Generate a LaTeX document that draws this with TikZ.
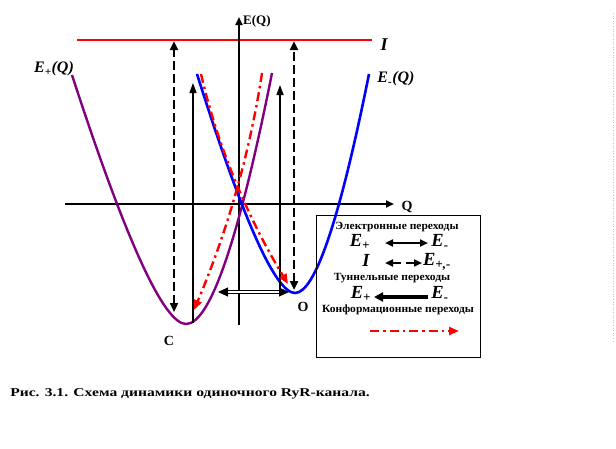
\documentclass[tikz,border=0pt]{standalone}
\usepackage{fontspec}
\setmainfont{Liberation Serif}
\usetikzlibrary{arrows.meta}
\definecolor{eplus}{RGB}{128,0,128}
\definecolor{eminus}{RGB}{0,0,255}
\definecolor{ired}{RGB}{255,0,0}
\begin{document}
\begin{tikzpicture}[x=1pt,y=-1pt,
  axis/.style={line width=2.6pt, -{Triangle[length=8pt,width=7pt]}},
  jump/.style={line width=2.4pt, dash pattern=on 9pt off 4pt, {Triangle[length=9pt,width=8pt]}-{Triangle[length=9pt,width=8pt]}},
  rise/.style={line width=1.3pt, -{Triangle[length=10pt,width=7pt]}},
  conf/.style={ired, line width=2.4pt, dash pattern=on 9pt off 4pt on 2.5pt off 4pt, -{Triangle[length=10pt,width=8pt]}},
  curveplus/.style={eplus, line width=2.4pt},
  curveminus/.style={eminus, line width=2.6pt},
  lbl/.style={font=\bfseries, inner sep=0pt},
  ilbl/.style={font=\bfseries\itshape, inner sep=0pt},
  legtxt/.style={font=\bfseries\fontsize{11}{12}\selectfont, inner sep=0pt, xscale=1.05, text height=7.5pt, text depth=2pt},
  legE/.style={font=\bfseries\itshape\fontsize{18.5}{20}\selectfont, inner sep=0pt, text height=12.5pt, text depth=1pt},
  legarrow/.style={line width=2.2pt, -{Triangle[length=8pt,width=7pt]}},
  ]
\useasboundingbox (0,0) rectangle (616,448);

% faint page border
\draw[gray!45, line width=0.6pt, dotted] (613,13) -- (613,342);

% ionised level I
\coordinate (il) at (77,40);
\coordinate (ir) at (372,40);
\draw[ired, line width=2pt] (il) -- (ir);
\node[ilbl, font=\bfseries\itshape\fontsize{18}{18}\selectfont] (Ilab) at (384,45) {I};

% axes
\coordinate (xl) at (65,204);
\coordinate (xr) at (394,204);
\coordinate (yb) at (239,325);
\coordinate (yt) at (239,17);
\draw[axis] (xl) -- (xr);
\draw[axis] (yb) -- (yt);
\node[lbl, font=\bfseries\fontsize{13}{13}\selectfont, anchor=west] (EQ) at (243,21) {E(Q)};
\node[lbl, font=\bfseries\fontsize{14}{14}\selectfont] (Qlab) at (407,207) {Q};

% E+ curve (purple)
\draw[curveplus] (72,75) .. controls (126,241) and (164,324) .. (186,324)
                 .. controls (210,324) and (238.7,240.3) .. (272,73);
% E- curve (blue)
\draw[curveminus] (197,74) .. controls (243,220) and (275.7,293) .. (295,293)
                  .. controls (315,293) and (339.7,220) .. (369,74);

\node[ilbl, font=\bfseries\itshape\fontsize{16}{16}\selectfont] (Eplab) at (54,69) {E\textsubscript{+}(Q)};
\node[ilbl, font=\bfseries\itshape\fontsize{16}{16}\selectfont] (Emlab) at (396,79) {E\textsubscript{-}(Q)};

% dashed transitions to I
\coordinate (dlb) at (174,312);
\coordinate (dlt) at (174,41);
\coordinate (drb) at (294,290);
\coordinate (drt) at (294,41);
\draw[jump] (dlb) -- (dlt);
\draw[jump] (drb) -- (drt);

% solid upward transitions
\coordinate (slb) at (193,323);
\coordinate (slt) at (193,83);
\coordinate (srb) at (280,289);
\coordinate (srt) at (280,85);
\draw[rise] (slb) -- (slt);
\draw[rise] (srb) -- (srt);

% tunnelling double arrow
\coordinate (tl) at (218,292);
\coordinate (tr) at (289,292);
\draw[double, double distance=2pt, line width=0.9pt,
      {Triangle[length=10pt,width=9pt]}-{Triangle[length=10pt,width=9pt]}] (tl) -- (tr);

% conformational transitions (red dash-dot)
\coordinate (c1s) at (201,74);
\coordinate (c1e) at (288,284);
\coordinate (c2s) at (262,73);
\coordinate (c2e) at (194,310);
\draw[conf] (c1s) .. controls (217.7,146) and (246.7,216) .. (c1e);
\draw[conf] (c2s) .. controls (250,152.3) and (227.3,231.3) .. (c2e);

% state labels
\node[lbl, font=\bfseries\fontsize{14}{14}\selectfont] (Olab) at (303,307) {O};
\node[lbl, font=\bfseries\fontsize{14}{14}\selectfont] (Clab) at (169,341) {C};

% legend
\node[draw, line width=1.2pt, minimum width=164pt, minimum height=142pt, inner sep=0pt, anchor=north west] (legend) at (316,215) {};
\node[legtxt] (t1) at (397,227) {Электронные переходы};
\node[legE] (r1a) at (360,241) {E\textsubscript{+}};
\node[legE] (r1b) at (440,241) {E\textsubscript{-}};
\coordinate (a1l) at (385,243);
\coordinate (a1r) at (428,243);
\draw[line width=2.2pt, {Triangle[length=8pt,width=7pt]}-{Triangle[length=8pt,width=7pt]}] (a1l) -- (a1r);
\node[legE] (r2a) at (366,261) {I};
\node[legE] (r2b) at (437,260) {E\textsubscript{+,-}};
\coordinate (a2a) at (401,263);
\coordinate (a2b) at (385,263);
\coordinate (a2c) at (406,263);
\coordinate (a2d) at (422,263);
\draw[legarrow] (a2a) -- (a2b);
\draw[legarrow] (a2c) -- (a2d);
\node[legtxt] (t2) at (392,277.5) {Туннельные переходы};
\node[legE] (r3a) at (361,293) {E\textsubscript{+}};
\node[legE] (r3b) at (440,293) {E\textsubscript{-}};
\coordinate (a3r) at (428,297);
\coordinate (a3l) at (374,297);
\draw[line width=3.4pt, -{Triangle[length=9pt,width=9pt]}] (a3r) -- (a3l);
\node[legtxt] (t3) at (398,310) {Конформационные переходы};
\coordinate (a4l) at (370,331);
\coordinate (a4r) at (459,331);
\draw[conf] (a4l) -- (a4r);

% caption
\node[lbl, font=\bfseries\fontsize{12}{13}\selectfont, anchor=west, xscale=1.3] (cap) at (10,394) {Рис. 3.1. Схема динамики одиночного RyR-канала.};
\end{tikzpicture}
\end{document}
